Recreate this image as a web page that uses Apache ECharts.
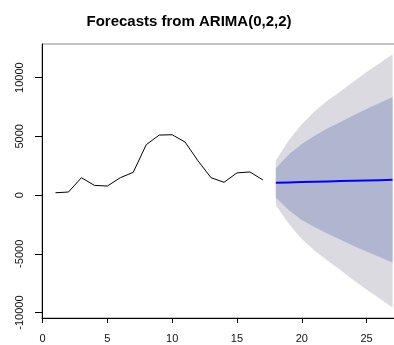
<!DOCTYPE html>
<html>
<head>
<meta charset="utf-8">
<script src="https://cdn.jsdelivr.net/npm/echarts@6/dist/echarts.min.js"></script>
<style>html,body{margin:0;padding:0;background:#fff;}#c{width:394px;height:345px;}</style>
</head>
<body>
<div id="c"></div>
<script>
const titleText = 'Forecasts from ARIMA(0,2,2)';
const histX = [1,2,3,4,5,6,7,8,9,10,11,12,13,14,15,16,17];
const histY = [200,260,1480,830,770,1480,1940,4290,5110,5140,4510,2910,1480,1090,1890,1970,1290];
const fcX = [18,19,20,21,22,23,24,25,26,27];
const fcMean = [1050,1078,1106,1134,1162,1190,1218,1246,1274,1300];
const upper80 = [2290,3450,4350,5050,5700,6230,6800,7330,7840,8360];
const lower80 = [-200,-1300,-2120,-2730,-3300,-3810,-4330,-4800,-5270,-5730];
const upper95 = [2950,4680,6040,7140,8050,8850,9680,10470,11220,12000];
const lower95 = [-860,-2450,-3740,-4730,-5580,-6400,-7250,-8040,-8800,-9570];
const xTicks = [0,5,10,15,20,25];
const yTicks = [-10000,-5000,0,5000,10000];

const FONT = '"Liberation Sans", Arial, sans-serif';

function band(lower, upper, color) {
  return {
    type: 'custom',
    silent: true,
    clip: true,
    z: 1,
    data: [[fcX[0], upper[0]]],
    renderItem: function (params, api) {
      const pts = [];
      for (let i = 0; i < fcX.length; i++) pts.push(api.coord([fcX[i], upper[i]]));
      for (let i = fcX.length - 1; i >= 0; i--) pts.push(api.coord([fcX[i], lower[i]]));
      return { type: 'polygon', shape: { points: pts }, style: { fill: color } };
    }
  };
}

const chart = echarts.init(document.getElementById('c'), null, { renderer: 'canvas' });
chart.setOption({
  animation: false,
  backgroundColor: '#ffffff',
  title: {
    text: titleText,
    left: 184, textAlign: 'center',
    top: 9,
    textStyle: { fontFamily: FONT, fontSize: 15, fontWeight: 'bold', color: '#000' }
  },
  grid: {
    left: 42, top: 44, width: 364, height: 274,
    show: true, borderColor: '#888', borderWidth: 1,
    outerBoundsMode: 'none', containLabel: false
  },
  xAxis: {
    type: 'value', min: -0.04, max: 28.04,
    splitLine: { show: false },
    axisLine: { show: true, onZero: false, lineStyle: { color: '#000', width: 1 } },
    axisTick: { show: true, customValues: xTicks, length: 5, lineStyle: { color: '#000' } },
    axisLabel: { customValues: xTicks, margin: 15, fontFamily: FONT, fontSize: 11, color: '#111' }
  },
  yAxis: {
    type: 'value', min: -10464, max: 12864,
    splitLine: { show: false },
    axisLine: { show: true, onZero: false, lineStyle: { color: '#000', width: 1 } },
    axisTick: { show: true, customValues: yTicks, length: 7, lineStyle: { color: '#000' } },
    axisLabel: { customValues: yTicks, rotate: 90, margin: 17, fontFamily: FONT, fontSize: 11, color: '#111',
      formatter: function (v) { return String(v); } }
  },
  series: [
    band(lower95, upper95, '#DADAE0'),
    band(lower80, upper80, '#B0B5D0'),
    {
      type: 'line', z: 3, symbol: 'none',
      data: histX.map((x, i) => [x, histY[i]]),
      lineStyle: { color: '#000', width: 1 }
    },
    {
      type: 'line', z: 4, symbol: 'none',
      data: fcX.map((x, i) => [x, fcMean[i]]),
      lineStyle: { color: '#0000FF', width: 2 }
    }
  ]
});
</script>
</body>
</html>
